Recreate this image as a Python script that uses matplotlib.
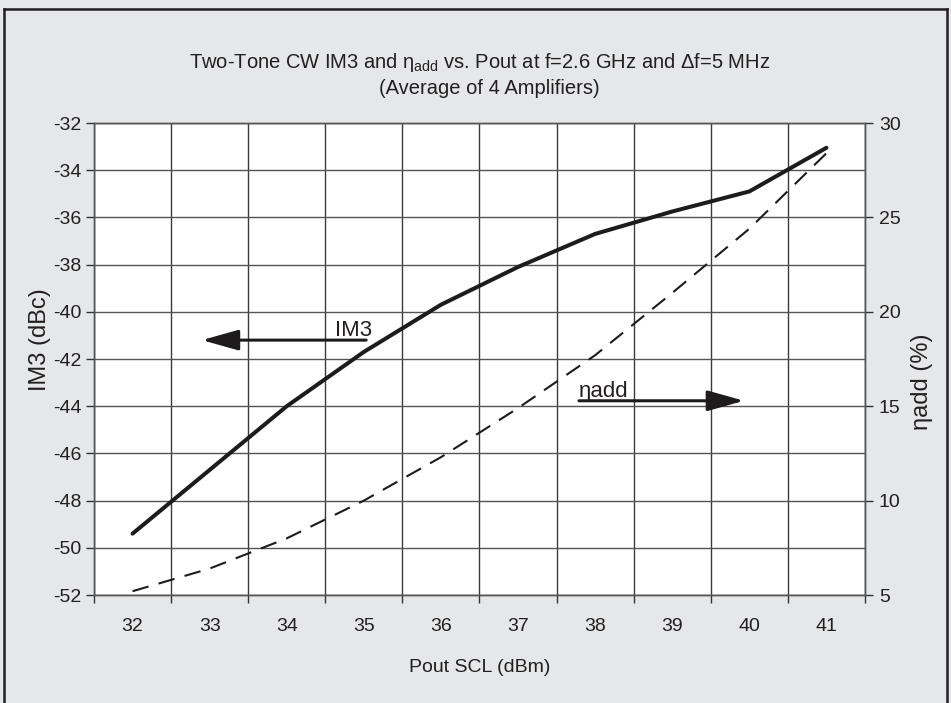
import matplotlib
matplotlib.use('Agg')
import matplotlib.pyplot as plt
from matplotlib.patches import FancyArrowPatch
from matplotlib.lines import Line2D

# ---- data ----
pout = [32, 33, 34, 35, 36, 37, 38, 39, 40, 41]
im3 = [-49.4, -46.7, -44.0, -41.7, -39.7, -38.1, -36.7, -35.75, -34.9, -33.05]
eta = [5.2, 6.4, 8.0, 10.0, 12.3, 14.9, 17.7, 21.0, 24.4, 28.4]
x_tick_labels = ['32', '33', '34', '35', '36', '37', '38', '39', '40', '41']
im3_ticks = [-52, -50, -48, -46, -44, -42, -40, -38, -36, -34, -32]
eta_ticks = [5, 10, 15, 20, 25, 30]

plt.rcParams['font.family'] = ['Liberation Sans Narrow', 'Liberation Sans', 'DejaVu Sans']
plt.rcParams['axes.unicode_minus'] = False
plt.rcParams['mathtext.fontset'] = 'custom'
plt.rcParams['mathtext.rm'] = 'Liberation Sans'
plt.rcParams['mathtext.it'] = 'Liberation Sans'
plt.rcParams['mathtext.default'] = 'rm'

TXT = '#231f20'
BG = '#e6e7e8'
W, H = 951, 703

fig = plt.figure(figsize=(W / 100, H / 100), dpi=100, facecolor=BG)

# frame around figure
for xs, ys in [([3.5, 3.5], [0, H - 8.5]), ([3.5, 947], [H - 8.5, H - 8.5]), ([947, 947], [0, H - 8.5])]:
    fig.add_artist(Line2D([x / W for x in xs], [y / H for y in ys], color='#231f20', lw=1.8,
                          transform=fig.transFigure))

L, R, T, B = 94, 865, 123, 595
ax = fig.add_axes([L / W, 1 - B / H, (R - L) / W, (B - T) / H])
ax.set_facecolor('white')
ax.set_xlim(31.5, 41.5)
ax.set_ylim(-52, -32)
ax.set_xticks(pout)
ax.set_xticklabels(x_tick_labels)
ax.set_xticks([p - 0.5 for p in pout] + [41.5], minor=True)
ax.set_yticks(im3_ticks)
ax.set_yticklabels([str(v) for v in im3_ticks])
ax.tick_params(axis='x', which='major', length=0, pad=16.5, labelsize=14, labelcolor=TXT)
ax.tick_params(axis='x', which='minor', length=6, width=1, color='#333333', direction='out')
ax.tick_params(axis='y', which='major', length=6, width=1, color='#333333', direction='out',
               pad=3, labelsize=14, labelcolor=TXT)
ax.grid(True, which='minor', axis='x', color='#3a3a3a', lw=1)
ax.grid(True, which='major', axis='y', color='#555555', lw=1)
ax.set_axisbelow(True)
for s in ax.spines.values():
    s.set_color('#555555')
    s.set_linewidth(1)

ax.plot(pout, im3, color='#1e1b1c', lw=2.9, solid_capstyle='round', zorder=3)

ax2 = ax.twinx()
ax2.set_ylim(5, 30)
ax2.set_yticks(eta_ticks)
ax2.tick_params(axis='y', length=6, width=1, color='#333333', direction='out', pad=4,
                labelsize=14, labelcolor=TXT)
for s in ax2.spines.values():
    s.set_color('#555555')
    s.set_linewidth(1)
ax2.plot(pout, eta, color='#1e1b1c', lw=1.5, dashes=(8, 5), zorder=3)

# labels
ax.set_xlabel('Pout SCL (dBm)', fontsize=14, color=TXT, labelpad=17)
fig.text(40 / W, 1 - 340 / H, 'IM3 (dBc)', rotation=90, ha='center', va='center',
         fontsize=17, color=TXT, family=['Liberation Sans', 'DejaVu Sans'])
fig.text(922 / W, 1 - 382 / H, 'ηadd (%)', rotation=90, ha='center', va='center',
         fontsize=17, color=TXT, family=['Liberation Sans', 'DejaVu Sans'])

# title
fig.text(480 / W, 1 - 62 / H,
         r'Two-Tone CW IM3 and $\eta_{\mathrm{add}}$ vs. Pout at f=2.6 GHz and Δf=5 MHz',
         ha='center', va='center', fontsize=14.5, color=TXT)
fig.text(489 / W, 1 - 88 / H, '(Average of 4 Amplifiers)', ha='center', va='center',
         fontsize=14.5, color=TXT)

# annotations with arrows
arr1 = FancyArrowPatch((35.03, -41.2), (32.9, -41.2), arrowstyle='-|>,head_length=1.6,head_width=0.45',
                       mutation_scale=14, color='#1e1b1c', lw=2.2, shrinkA=0, shrinkB=0, zorder=4)
ax.add_patch(arr1)
ax.text(34.63, -41.03, 'IM3', fontsize=16, color=TXT, ha='left', va='baseline')

arr2 = FancyArrowPatch((37.79, -43.77), (39.93, -43.77), arrowstyle='-|>,head_length=1.6,head_width=0.45',
                       mutation_scale=14, color='#1e1b1c', lw=2.2, shrinkA=0, shrinkB=0, zorder=4)
ax.add_patch(arr2)
ax.text(37.79, -43.6, 'ηadd', fontsize=16, color=TXT, ha='left', va='baseline')

fig.savefig('out.png', dpi=100, facecolor=BG)
